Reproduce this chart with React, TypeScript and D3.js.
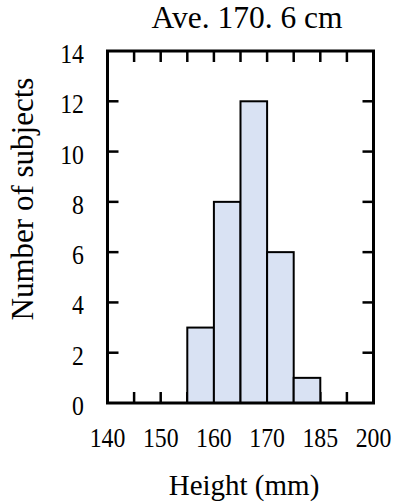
import React, { useEffect, useRef } from "react";
import * as d3 from "d3";

// histogram bins (height) and number of subjects in each
const binLow = [155, 160, 165, 170, 175];
const binHigh = [160, 165, 170, 175, 180];
const counts = [3, 8, 12, 6, 1];

// axis ticks
const xTickValues = [140, 150, 160, 170, 180, 190];
const xTickLabels = ["140", "150", "160", "170", "185", "200"];
const xMarkValues = [145, 150, 155, 160, 165, 170, 175, 180, 185];
const yTickValues = [0, 2, 4, 6, 8, 10, 12, 14];
const yMarkValues = [2, 4, 6, 8, 10, 12];

const title = "Ave. 170. 6 cm";
const xTitle = "Height (mm)";
const yTitle = "Number of subjects";

const App = () => {
  const svgRef = useRef<SVGSVGElement>(null);

  useEffect(() => {
    const w = 397;
    const h = 504;
    const svg = d3.select(svgRef.current)
      .attr("width", w)
      .attr("height", h);
    svg.selectAll("*").remove();

    const font = "'Liberation Serif', 'Times New Roman', serif";
    const tickLen = 11;

    //scales
    const xScale = d3.scaleLinear().domain([140, 190]).range([107.5, 373.5]);
    const yScale = d3.scaleLinear().domain([0, 14]).range([403, 51]);
    const [x0, x1] = xScale.range();
    const [y0, y1] = yScale.range();

    // inward tick marks, drawn before the bars so the bars cover them
    const marks = svg.append("g").attr("stroke", "#000").attr("stroke-width", 2.5);
    marks.selectAll(".top").data(xMarkValues).join("line")
      .attr("class", "top")
      .attr("x1", d => xScale(d)).attr("x2", d => xScale(d))
      .attr("y1", y1).attr("y2", y1 + tickLen);
    marks.selectAll(".bottom").data(xMarkValues).join("line")
      .attr("class", "bottom")
      .attr("x1", d => xScale(d)).attr("x2", d => xScale(d))
      .attr("y1", y0).attr("y2", y0 - tickLen);
    marks.selectAll(".left").data(yMarkValues).join("line")
      .attr("class", "left")
      .attr("x1", x0).attr("x2", x0 + tickLen)
      .attr("y1", d => yScale(d)).attr("y2", d => yScale(d));
    marks.selectAll(".right").data(yMarkValues).join("line")
      .attr("class", "right")
      .attr("x1", x1).attr("x2", x1 - tickLen)
      .attr("y1", d => yScale(d)).attr("y2", d => yScale(d));

    // bars
    svg.append("g").selectAll("rect").data(counts).join("rect")
      .attr("x", (d, i) => xScale(binLow[i]))
      .attr("width", (d, i) => xScale(binHigh[i]) - xScale(binLow[i]))
      .attr("y", d => yScale(d))
      .attr("height", d => yScale(0) - yScale(d))
      .attr("fill", "#d9e2f3")
      .attr("stroke", "#000")
      .attr("stroke-width", 2);

    // frame
    svg.append("rect")
      .attr("x", x0).attr("y", y1)
      .attr("width", x1 - x0).attr("height", y0 - y1)
      .attr("fill", "none")
      .attr("stroke", "#000")
      .attr("stroke-width", 3);

    // tick labels
    svg.append("g").selectAll("text").data(xTickValues).join("text")
      .attr("transform", d => `translate(${xScale(d)},447) scale(0.88,1)`)
      .attr("text-anchor", "middle")
      .attr("font-family", font)
      .attr("font-size", 27)
      .text((d, i) => xTickLabels[i]);

    svg.append("g").selectAll("text").data(yTickValues).join("text")
      .attr("transform", d => `translate(84,${yScale(d) + 12}) scale(0.88,1)`)
      .attr("text-anchor", "end")
      .attr("font-family", font)
      .attr("font-size", 27)
      .text(d => d);

    // titles
    svg.append("text")
      .attr("x", 247).attr("y", 28)
      .attr("text-anchor", "middle")
      .attr("font-family", font)
      .attr("font-size", 31.5)
      .text(title);

    svg.append("text")
      .attr("x", 244).attr("y", 495)
      .attr("text-anchor", "middle")
      .attr("font-family", font)
      .attr("font-size", 29)
      .text(xTitle);

    svg.append("text")
      .attr("transform", "translate(33,199) rotate(-90)")
      .attr("text-anchor", "middle")
      .attr("font-family", font)
      .attr("font-size", 31)
      .text(yTitle);
  }, []);

  return (
    <div>
      <svg ref={svgRef} style={{ position: "absolute", left: 0, top: 0, background: "#fff" }}></svg>
    </div>
  );
};

export default App;
